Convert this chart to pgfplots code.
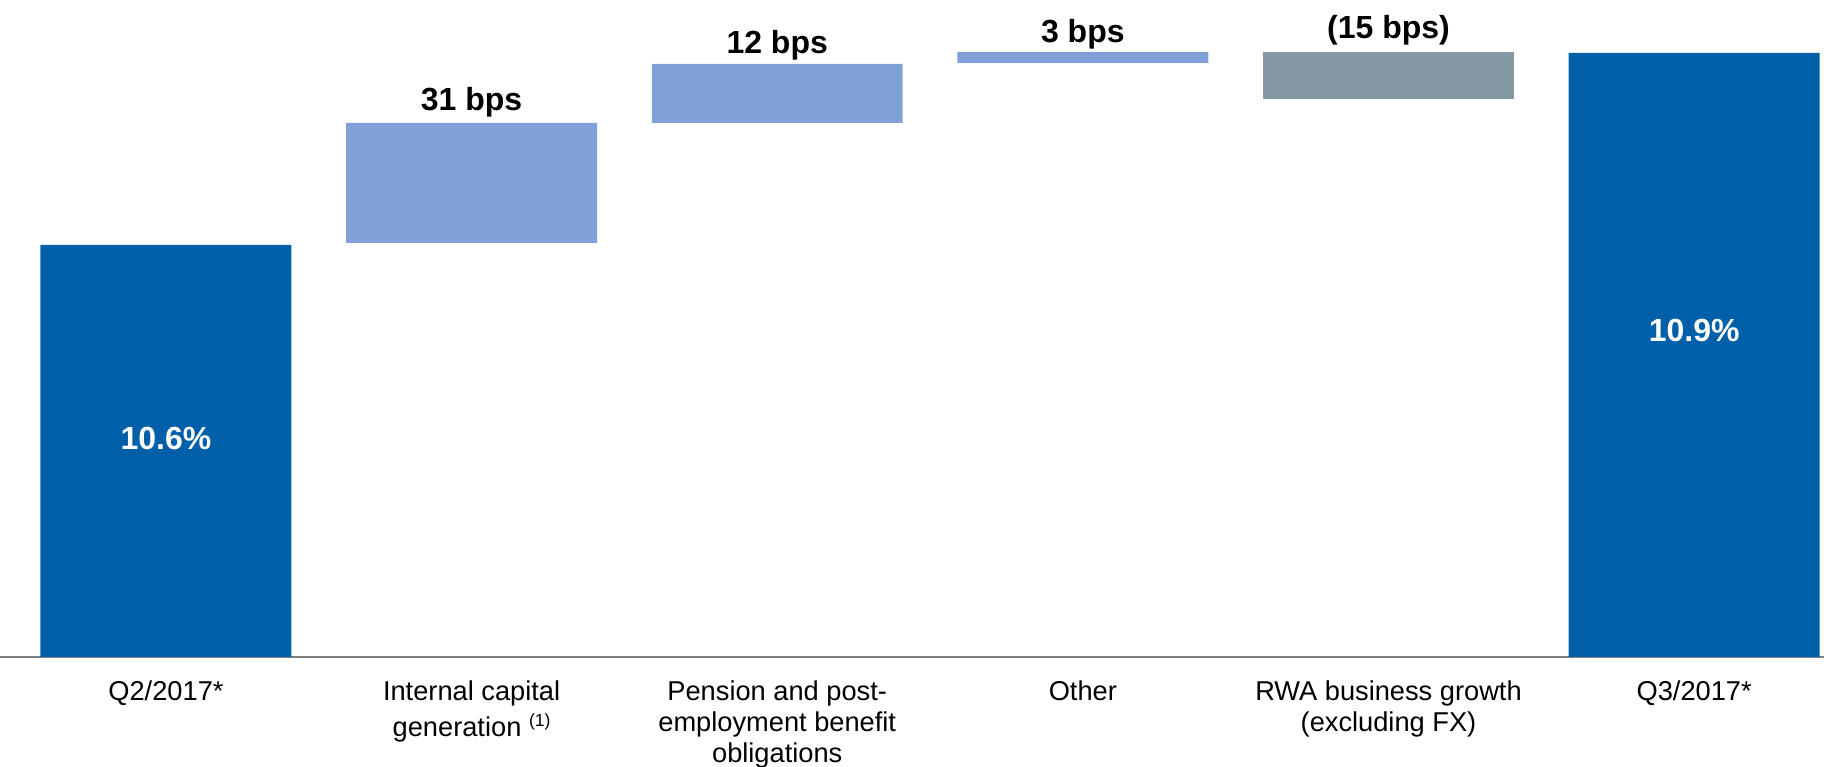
\documentclass[border=0pt]{standalone}
\usepackage{pgfplots}
\pgfplotsset{compat=1.18}
\usepackage{fontspec}
\setmainfont{Liberation Sans}
\definecolor{navybar}{HTML}{005FA9}
\definecolor{lightbar}{HTML}{7FA1D8}
\definecolor{graybar}{HTML}{8599A4}
\definecolor{axisgray}{HTML}{808080}
\tikzset{bps/.style={anchor=base, inner sep=0pt,
                     font=\bfseries\fontsize{9.1}{10}\selectfont}}

\begin{document}
\begin{tikzpicture}
\begin{axis}[
    scale only axis,
    width=518.9pt, height=218.2pt,
    xmin=-0.543, xmax=5.425, ymin=-110, ymax=657,
    ybar stacked, bar width=0.821,
    axis x line*=middle, axis y line=none,
    x axis line style={axisgray, line width=0.72pt},
    xtick={0,...,5}, ytick=\empty, major tick length=0pt,
    xticklabels={
      {\strut Q2/2017*},
      {\strut Internal capital\\generation \raisebox{0.38em}{\fontsize{5}{5}\selectfont(1)}},
      {\strut Pension and post-\\employment benefit\\obligations},
      {\strut Other},
      {\strut RWA business growth\\(excluding FX)},
      {\strut Q3/2017*}},
    xticklabel style={anchor=north, inner sep=0pt, yshift=-6.04pt,
                      align=center, font=\fontsize{7.75}{8.8}\selectfont},
    clip=false,
  ]
% invisible offsets that lift the floating bars
\addplot[draw=none, fill=none] coordinates {(0,0) (1,414) (2,534) (3,594) (4,558) (5,0)};
\addplot[draw=none, fill=navybar] coordinates {(0,412) (1,0) (2,0) (3,0) (4,0) (5,604)};
\addplot[draw=none, fill=lightbar] coordinates {(0,0) (1,120) (2,59) (3,11) (4,0) (5,0)};
\addplot[draw=none, fill=graybar] coordinates {(0,0) (1,0) (2,0) (3,0) (4,47) (5,0)};

\node[bps] at (axis cs:1,546) {31 bps};
\node[bps] at (axis cs:2,603) {12 bps};
\node[bps] at (axis cs:3,614) {3 bps};
\node[bps] at (axis cs:4,618.5) {(15 bps)};
\coordinate (startlbl) at (axis cs:0,207.5);
\coordinate (endlbl) at (axis cs:5,315.5);
\coordinate (bl) at (rel axis cs:0,0);
\coordinate (tr) at (rel axis cs:1,1);
\end{axis}
\node[bps, text=white] at (startlbl) {10.6\%};
\node[bps, text=white] at (endlbl) {10.9\%};
\pgfresetboundingbox
\path[use as bounding box] (bl) rectangle (tr);
\end{tikzpicture}
\end{document}
